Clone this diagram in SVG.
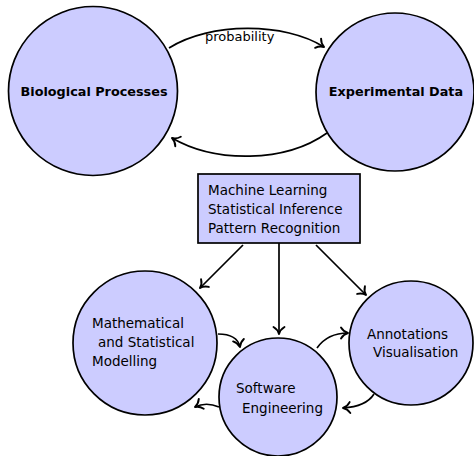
<svg xmlns="http://www.w3.org/2000/svg" width="474" height="456" viewBox="0 0 474 456">
  <defs>
    <marker id="tip" markerUnits="userSpaceOnUse" markerWidth="16" markerHeight="16" viewBox="-9 -8 11 16" refX="0" refY="0" orient="auto">
      <path d="M-7,-5.5 C-5,-2.2 -2.2,-0.6 0,0 C-2.2,0.6 -5,2.2 -7,5.5" fill="none" stroke="#000" stroke-width="1.9" stroke-linecap="round" stroke-linejoin="round"/>
    </marker>
  </defs>
  <style>
    .node { fill: #ccccff; stroke: #000; stroke-width: 1.7; }
    .edge { fill: none; stroke: #000; stroke-width: 1.7; marker-end: url(#tip); }
    .lbl { font-family: "DejaVu Sans", "Liberation Sans", sans-serif; font-size: 13.5px; fill: #000; }
    .bold { font-family: "DejaVu Sans", "Liberation Sans", sans-serif; font-size: 12.8px; font-weight: bold; fill: #000; }
  </style>

  <rect width="474" height="456" fill="#fff"/>

  <!-- connectors -->
  <g id="connectors">
    <path class="edge" d="M169,48 C210,22 285,22 324,47"/>
    <text class="lbl" x="205" y="41" style="font-size:13px">probability</text>
    <path class="edge" d="M327,133 C285,163 215,163 172,138"/>
    <path class="edge" d="M243,245 L200,288"/>
    <path class="edge" d="M279,243 L279,334"/>
    <path class="edge" d="M316,245 L366,295"/>
    <path class="edge" d="M218,334 C230,334 238,338 240,347"/>
    <path class="edge" d="M219,407 C212,404 203,403 195,407"/>
    <path class="edge" d="M317,348 C324,338 334,333 348,333"/>
    <path class="edge" d="M374,394 C369,402 359,407 343,408"/>
  </g>

  <!-- nodes -->
  <g id="bio">
    <circle class="node" cx="93" cy="91" r="84.5"/>
    <text class="bold" x="94" y="96" text-anchor="middle">Biological Processes</text>
  </g>
  <g id="data">
    <circle class="node" cx="395" cy="92" r="79"/>
    <text class="bold" x="396" y="96" text-anchor="middle">Experimental Data</text>
  </g>
  <g id="methods">
    <rect class="node" x="198" y="174" width="162" height="69"/>
    <text class="lbl" x="208" y="195">Machine Learning</text>
    <text class="lbl" x="208" y="214">Statistical Inference</text>
    <text class="lbl" x="208" y="233">Pattern Recognition</text>
  </g>
  <g id="modelling">
    <circle class="node" cx="145" cy="343" r="72"/>
    <text class="lbl" x="92" y="328">Mathematical</text>
    <text class="lbl" x="98" y="347">and Statistical</text>
    <text class="lbl" x="92" y="366">Modelling</text>
  </g>
  <g id="software">
    <circle class="node" cx="278" cy="397" r="59"/>
    <text class="lbl" x="236" y="393">Software</text>
    <text class="lbl" x="242" y="413">Engineering</text>
  </g>
  <g id="annotations">
    <circle class="node" cx="411" cy="343" r="62"/>
    <text class="lbl" x="367" y="339">Annotations</text>
    <text class="lbl" x="373" y="357">Visualisation</text>
  </g>
</svg>
